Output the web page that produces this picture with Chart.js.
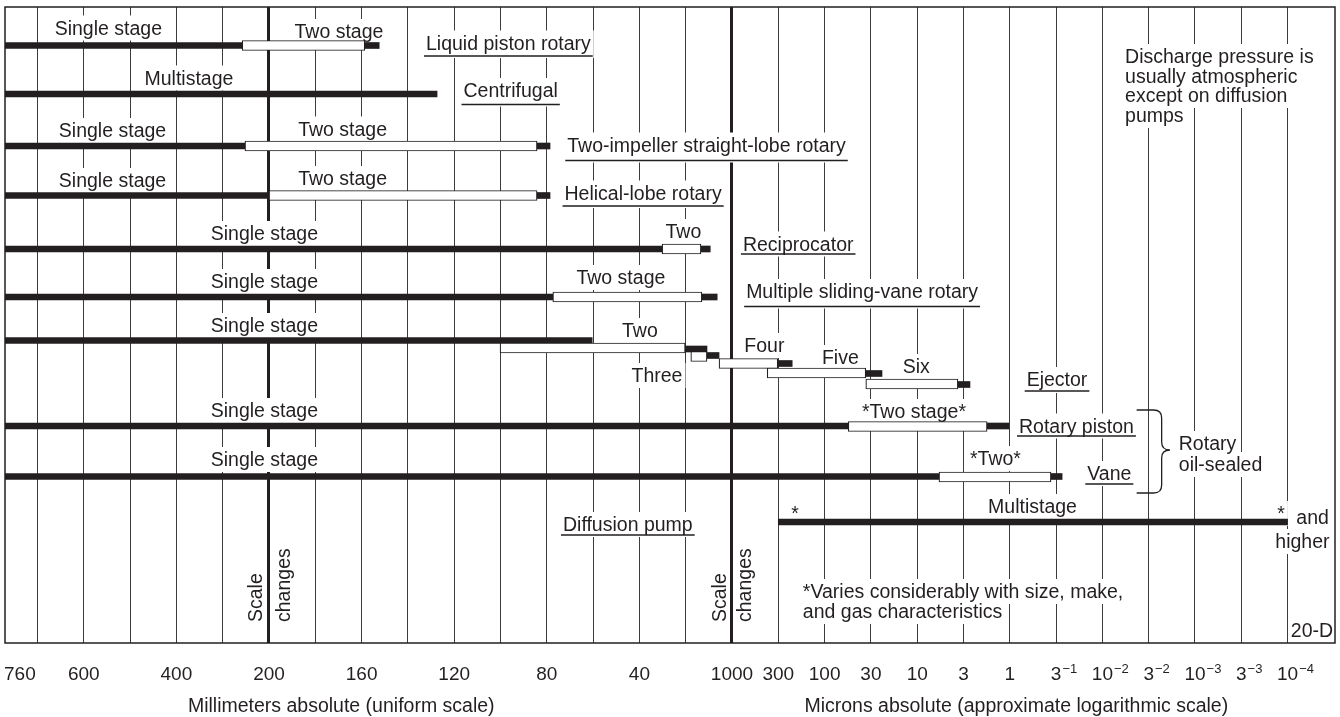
<!DOCTYPE html>
<html>
<head>
<meta charset="utf-8">
<script src="https://cdn.jsdelivr.net/npm/chart.js@4.4.1/dist/chart.umd.min.js"></script>
<style>
  body { margin: 0; background: #fff; }
  #wrap { width: 1340px; height: 717px; }
</style>
</head>
<body>
<div id="wrap"><canvas id="pumpChart" width="1340" height="717"></canvas></div>
<script>
// x = position on the composite pressure axis (one unit per grid division)
// y = row position (one unit = 50 px of the original drawing)
var FONT = "'Liberation Sans', Arial, Helvetica, sans-serif";
var INK = '#231f20';

var xMin = 0.298, xMax = 29.024;
var yMin = 0, yMax = 12.72;

// axis labels
var tickPos  = [0.62, 2, 4, 6, 8, 10, 12, 14, 16, 17, 18, 19, 20, 21, 22, 23, 24, 25, 26, 27, 28];
var tickBase = ['760', '600', '400', '200', '160', '120', '80', '40', '1000', '300', '100', '30', '10', '3', '1', '3', '10', '3', '10', '3', '10'];
var tickExp  = ['', '', '', '', '', '', '', '', '', '', '', '', '', '', '', '\u22121', '\u22122', '\u22122', '\u22123', '\u22123', '\u22124'];
var heavyLines = [6, 16];   // where the scale changes
var axisTitles = ['Millimeters absolute (uniform scale)', 'Microns absolute (approximate logarithmic scale)'];
var axisTitleX = [7.56, 22.14];

// solid bars (single stage / multistage / end of range)
var solidStart = [0.298, 8.07, 0.298, 0.298, 11.79, 0.298, 11.79, 0.298, 15.33, 0.298, 15.35,
                  0.298, 14.99, 15.46, 16.99, 18.89, 20.88, 0.298, 21.51, 0.298, 22.89, 17.0];
var solidEnd   = [5.42, 8.38, 9.63, 5.48, 12.07, 6.0, 12.07, 14.49, 15.53, 12.13, 15.68,
                  12.98, 15.46, 15.72, 17.30, 19.24, 21.14, 18.51, 21.98, 20.47, 23.13, 28.0];
var solidRow   = [0.77, 0.77, 1.74, 2.78, 2.78, 3.77, 3.77, 4.84, 4.84, 5.80, 5.80,
                  6.67, 6.84, 6.97, 7.13, 7.33, 7.55, 8.38, 8.38, 9.39, 9.39, 10.30];

// open bars (two stage and more)
var openStart = [5.42, 5.48, 6.0, 14.49, 12.13, 10.99, 15.11, 15.72, 16.76, 18.89, 18.51, 20.47];
var openEnd   = [8.07, 11.79, 11.79, 15.33, 15.35, 14.99, 15.46, 16.99, 18.89, 20.88, 21.51, 22.89];
var openRow   = [0.77, 2.78, 3.77, 4.84, 5.80, 6.82, 6.99, 7.13, 7.32, 7.54, 8.39, 9.40];

// text in the chart
var labelText = ['Single stage', 'Two stage', 'Liquid piston rotary', 'Multistage', 'Centrifugal',
  'Single stage', 'Two stage', 'Two-impeller straight-lobe rotary', 'Single stage', 'Two stage',
  'Helical-lobe rotary', 'Single stage', 'Two', 'Reciprocator', 'Single stage', 'Two stage',
  'Multiple sliding-vane rotary', 'Single stage', 'Two', 'Three', 'Four', 'Five', 'Six', 'Ejector',
  'Single stage', '*Two stage*', 'Rotary piston', 'Single stage', '*Two*', 'Vane', 'Rotary',
  'oil-sealed', '*', 'Multistage', '*', 'and', 'higher', 'Diffusion pump',
  '*Varies considerably with size, make,', 'and gas characteristics', 'Discharge pressure is',
  'usually atmospheric', 'except on diffusion', 'pumps', '20-D'];
var labelX = [2.53, 7.51, 11.17, 4.27, 11.22, 2.62, 7.59, 15.45, 2.62, 7.59,
  14.08, 5.90, 14.95, 17.43, 5.90, 13.60, 18.81, 5.90, 14.01, 14.38, 16.70, 18.34, 19.98, 23.02,
  5.90, 19.93, 23.44, 5.90, 21.69, 24.15, 25.65, 25.65, 17.36, 22.49, 27.86, 28.54, 28.32, 13.75,
  17.53, 17.53, 24.49, 24.49, 24.49, 24.49, 28.07];
var labelY = [0.55, 0.62, 0.85, 1.55, 1.80, 2.60, 2.57, 2.89, 3.60, 3.56,
  3.85, 4.66, 4.62, 4.87, 5.62, 5.54, 5.82, 6.50, 6.60, 7.50, 6.90, 7.14, 7.32, 7.58,
  8.20, 8.22, 8.51, 9.18, 9.16, 9.46, 8.86, 9.28, 10.26, 10.12, 10.26, 10.34, 10.82, 10.48,
  11.82, 12.22, 1.12, 1.51, 1.90, 2.30, 12.60];
var leftAligned = ['Rotary', 'oil-sealed', '*Varies considerably with size, make,', 'and gas characteristics',
  'Discharge pressure is', 'usually atmospheric', 'except on diffusion', 'pumps', '20-D'];
var unmasked = ['20-D'];
// underline y for the pump type names
var underlineText = ['Liquid piston rotary', 'Centrifugal', 'Two-impeller straight-lobe rotary', 'Helical-lobe rotary',
  'Reciprocator', 'Multiple sliding-vane rotary', 'Ejector', 'Rotary piston', 'Vane', 'Diffusion pump'];
var underlineY = [0.98, 1.95, 3.07, 3.98, 4.94, 5.99, 7.68, 8.58, 9.54, 10.56];

// vertical "Scale changes" notes
var rotText = ['Scale', 'changes', 'Scale', 'changes'];
var rotX = [5.85, 6.45, 15.87, 16.41];
var rotY = 12.3;

// brace for the rotary oil-sealed pair
var braceX = [24.74, 25.28, 25.46];  // arm start, spine, tip
var braceY = [8.06, 8.86, 9.72];     // top, tip, bottom

var textLayer = {
  id: 'textLayer',
  beforeDatasetsDraw: function (chart) {
    var ctx = chart.ctx, xs = chart.scales.x, ys = chart.scales.y;
    ctx.save();
    ctx.font = '19.5px ' + FONT;
    ctx.textBaseline = 'alphabetic';
    ctx.textAlign = 'left';

    var items = labelText.map(function (t, i) {
      var w = ctx.measureText(t).width;
      var px = xs.getPixelForValue(labelX[i]);
      var py = ys.getPixelForValue(labelY[i]);
      var u = underlineText.indexOf(t);
      return {
        t: t, w: w, py: py,
        left: leftAligned.indexOf(t) >= 0 ? px : px - w / 2,
        uy: u >= 0 ? ys.getPixelForValue(underlineY[u]) : null
      };
    });

    // white knock-out behind the text first, so grid lines stop at the words
    ctx.fillStyle = '#fff';
    items.forEach(function (it) {
      if (unmasked.indexOf(it.t) >= 0) return;
      var bottom = it.py + 6;
      if (it.uy !== null) bottom = Math.max(bottom, it.uy + 2);
      ctx.fillRect(it.left - 3, it.py - 19, it.w + 6, bottom - (it.py - 19));
    });

    ctx.fillStyle = INK;
    items.forEach(function (it) {
      ctx.fillText(it.t, it.left, it.py);
      if (it.uy !== null) ctx.fillRect(it.left - 2, it.uy - 0.75, it.w + 4, 1.5);
    });

    // rotated notes next to the heavy lines
    for (var j = 0; j < rotText.length; j++) {
      ctx.save();
      ctx.translate(xs.getPixelForValue(rotX[j]), ys.getPixelForValue(rotY));
      ctx.rotate(-Math.PI / 2);
      ctx.fillText(rotText[j], 0, 0);
      ctx.restore();
    }

    // brace
    var x0 = xs.getPixelForValue(braceX[0]), x1 = xs.getPixelForValue(braceX[1]), x2 = xs.getPixelForValue(braceX[2]);
    var yt = ys.getPixelForValue(braceY[0]), ym = ys.getPixelForValue(braceY[1]), yb = ys.getPixelForValue(braceY[2]);
    var r = 8;
    ctx.strokeStyle = INK;
    ctx.lineWidth = 1.3;
    ctx.beginPath();
    ctx.moveTo(x0, yt);
    ctx.lineTo(x1 - r, yt);
    ctx.quadraticCurveTo(x1, yt, x1, yt + r);
    ctx.lineTo(x1, ym - r);
    ctx.quadraticCurveTo(x1, ym, x2, ym);
    ctx.quadraticCurveTo(x1, ym, x1, ym + r);
    ctx.lineTo(x1, yb - r);
    ctx.quadraticCurveTo(x1, yb, x1 - r, yb);
    ctx.lineTo(x0, yb);
    ctx.stroke();
    ctx.restore();
  },
  afterDraw: function (chart) {
    var ctx = chart.ctx, xs = chart.scales.x, a = chart.chartArea;
    ctx.save();
    // frame
    ctx.strokeStyle = INK;
    ctx.lineWidth = 1.5;
    ctx.strokeRect(a.left, a.top, a.right - a.left, a.bottom - a.top);

    // exponents of the micron labels
    ctx.fillStyle = INK;
    ctx.textAlign = 'left';
    ctx.textBaseline = 'alphabetic';
    for (var i = 0; i < tickPos.length; i++) {
      if (!tickExp[i]) continue;
      ctx.font = '19px ' + FONT;
      var w = ctx.measureText(tickBase[i]).width;
      var px = xs.getPixelForValue(tickPos[i]);
      ctx.font = '13px ' + FONT;
      ctx.fillText(tickExp[i], px + w / 2 + 1, a.bottom + 30);
    }

    // the two axis titles
    ctx.font = '19.5px ' + FONT;
    ctx.textAlign = 'center';
    for (var k = 0; k < axisTitles.length; k++) {
      ctx.fillText(axisTitles[k], xs.getPixelForValue(axisTitleX[k]), a.bottom + 69);
    }
    ctx.restore();
  }
};

var gridValues = [0.62];
for (var g = 1; g <= 28; g++) gridValues.push(g);

var openData = openStart.map(function (s, i) { return { x: [s, openEnd[i]], y: openRow[i] }; });
var solidData = solidStart.map(function (s, i) { return { x: [s, solidEnd[i]], y: solidRow[i] }; });

new Chart(document.getElementById('pumpChart'), {
  type: 'bar',
  data: {
    datasets: [
      {
        label: 'staged',
        data: openData,
        stack: 'pump',
        barThickness: 10,
        backgroundColor: '#ffffff',
        borderColor: INK,
        borderWidth: 1.2,
        borderSkipped: false
      },
      {
        label: 'single',
        data: solidData,
        stack: 'pump',
        barThickness: 6,
        backgroundColor: INK,
        borderWidth: 0,
        borderSkipped: false
      }
    ]
  },
  options: {
    indexAxis: 'y',
    responsive: false,
    animation: false,
    devicePixelRatio: 1,
    layout: { padding: { left: 5, right: 5, top: 7, bottom: 0 } },
    plugins: { legend: { display: false }, tooltip: { enabled: false } },
    scales: {
      x: {
        type: 'linear',
        min: xMin,
        max: xMax,
        stacked: false,
        offset: false,
        afterBuildTicks: function (scale) {
          scale.ticks = gridValues.map(function (v) { return { value: v }; });
        },
        afterFit: function (scale) {
          scale.height = 74;
          scale.paddingLeft = 0;
          scale.paddingRight = 0;
        },
        border: { display: false },
        grid: {
          offset: false,
          drawTicks: false,
          color: function (c) {
            if (c.tick.value === tickPos[0]) return 'rgba(0,0,0,0)';
            return heavyLines.indexOf(c.tick.value) >= 0 ? INK : '#3c3c3c';
          },
          lineWidth: function (c) {
            return heavyLines.indexOf(c.tick.value) >= 0 ? 3 : 1;
          }
        },
        ticks: {
          autoSkip: false,
          maxRotation: 0,
          minRotation: 0,
          padding: 20,
          color: INK,
          font: { family: FONT, size: 19 },
          callback: function (value) {
            var i = tickPos.indexOf(value);
            return i < 0 ? '' : tickBase[i];
          }
        }
      },
      y: {
        type: 'linear',
        min: yMin,
        max: yMax,
        reverse: true,
        offset: false,
        display: false
      }
    }
  },
  plugins: [textLayer]
});
</script>
</body>
</html>
